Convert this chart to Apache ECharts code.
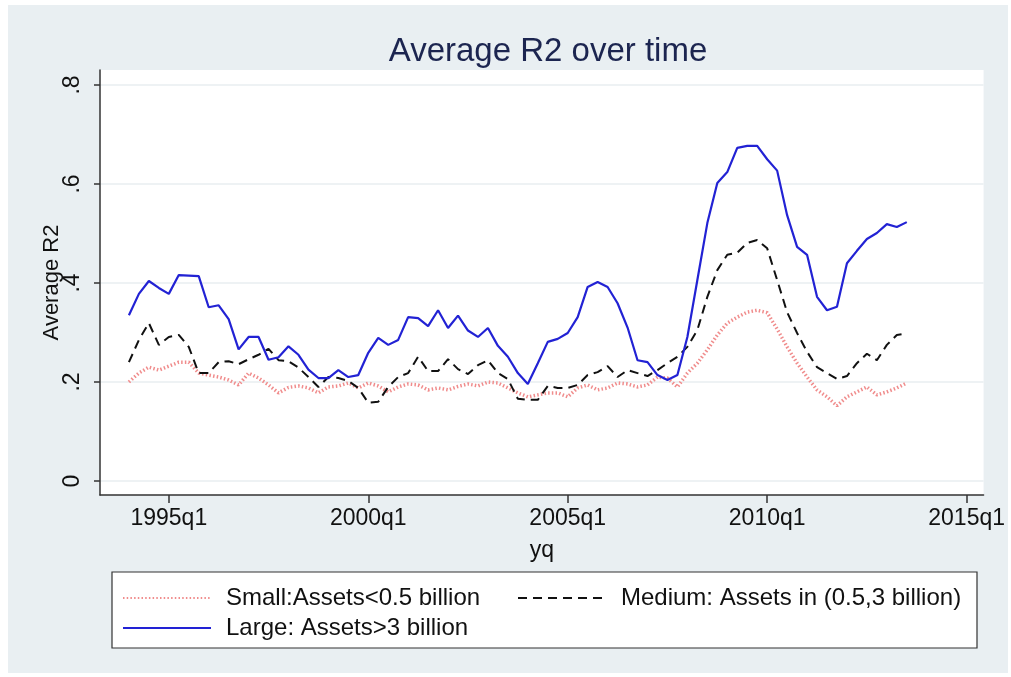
<!DOCTYPE html>
<html>
<head>
<meta charset="utf-8">
<script src="https://cdn.jsdelivr.net/npm/echarts@6/dist/echarts.min.js"></script>
<style>
  html, body { margin: 0; padding: 0; background: #ffffff; }
  #chart { position: absolute; left: 8px; top: 5px; width: 1000px; height: 668px; background: #e9eff2; }
</style>
</head>
<body>
<div id="chart"></div>
<script>
// quarters shown on the x axis (Stata yq)
var quarters = [
  '1994q1', '1994q2', '1994q3', '1994q4', '1995q1', '1995q2', '1995q3', '1995q4',
  '1996q1', '1996q2', '1996q3', '1996q4', '1997q1', '1997q2', '1997q3', '1997q4',
  '1998q1', '1998q2', '1998q3', '1998q4', '1999q1', '1999q2', '1999q3', '1999q4',
  '2000q1', '2000q2', '2000q3', '2000q4', '2001q1', '2001q2', '2001q3', '2001q4',
  '2002q1', '2002q2', '2002q3', '2002q4', '2003q1', '2003q2', '2003q3', '2003q4',
  '2004q1', '2004q2', '2004q3', '2004q4', '2005q1', '2005q2', '2005q3', '2005q4',
  '2006q1', '2006q2', '2006q3', '2006q4', '2007q1', '2007q2', '2007q3', '2007q4',
  '2008q1', '2008q2', '2008q3', '2008q4', '2009q1', '2009q2', '2009q3', '2009q4',
  '2010q1', '2010q2', '2010q3', '2010q4', '2011q1', '2011q2', '2011q3', '2011q4',
  '2012q1', '2012q2', '2012q3', '2012q4', '2013q1', '2013q2', '2013q3'
];

var small = [
  0.200, 0.218, 0.230, 0.224, 0.232, 0.240, 0.240, 0.218, 0.214, 0.210,
  0.204, 0.194, 0.218, 0.208, 0.194, 0.178, 0.189, 0.192, 0.188, 0.178,
  0.190, 0.192, 0.198, 0.188, 0.198, 0.192, 0.180, 0.190, 0.196, 0.194,
  0.184, 0.188, 0.184, 0.191, 0.196, 0.192, 0.200, 0.198, 0.188, 0.178,
  0.170, 0.174, 0.178, 0.178, 0.170, 0.188, 0.194, 0.184, 0.188, 0.198,
  0.196, 0.190, 0.194, 0.210, 0.208, 0.190, 0.218, 0.238, 0.265, 0.295,
  0.319, 0.331, 0.341, 0.345, 0.340, 0.307, 0.271, 0.238, 0.210, 0.184,
  0.170, 0.152, 0.170, 0.180, 0.190, 0.174, 0.180, 0.188, 0.198
];

var medium = [
  0.240, 0.285, 0.319, 0.275, 0.291, 0.295, 0.271, 0.218, 0.218, 0.240,
  0.242, 0.236, 0.246, 0.255, 0.267, 0.244, 0.242, 0.229, 0.210, 0.190,
  0.210, 0.208, 0.202, 0.188, 0.158, 0.160, 0.190, 0.210, 0.218, 0.251,
  0.222, 0.222, 0.246, 0.226, 0.216, 0.234, 0.244, 0.218, 0.206, 0.166,
  0.164, 0.164, 0.192, 0.188, 0.188, 0.194, 0.214, 0.220, 0.232, 0.210,
  0.224, 0.218, 0.212, 0.224, 0.238, 0.251, 0.271, 0.305, 0.372, 0.426,
  0.457, 0.461, 0.481, 0.487, 0.470, 0.406, 0.341, 0.299, 0.261, 0.230,
  0.218, 0.206, 0.212, 0.238, 0.257, 0.244, 0.275, 0.295, 0.298
];

var large = [
  0.335, 0.378, 0.404, 0.390, 0.378, 0.416, 0.415, 0.414, 0.351, 0.355,
  0.327, 0.266, 0.291, 0.291, 0.245, 0.250, 0.272, 0.255, 0.225, 0.208,
  0.208, 0.224, 0.210, 0.214, 0.259, 0.289, 0.275, 0.285, 0.331, 0.329,
  0.313, 0.345, 0.309, 0.334, 0.304, 0.291, 0.309, 0.273, 0.251, 0.218,
  0.196, 0.238, 0.281, 0.287, 0.299, 0.331, 0.392, 0.402, 0.392, 0.359,
  0.310, 0.244, 0.240, 0.214, 0.204, 0.214, 0.291, 0.406, 0.521, 0.602,
  0.624, 0.673, 0.677, 0.677, 0.650, 0.627, 0.537, 0.473, 0.457, 0.372,
  0.345, 0.352, 0.440, 0.465, 0.489, 0.501, 0.519, 0.513, 0.523
];

var xTickLabels = ['1995q1', '2000q1', '2005q1', '2010q1', '2015q1'];
var yTickValues = [0, 0.2, 0.4, 0.6, 0.8];
var yTickLabels = ['0', '.2', '.4', '.6', '.8'];

var names = ['Small:Assets<0.5 billion', 'Medium: Assets in (0.5,3 billion)', 'Large: Assets>3 billion'];

// Stata quarterly index: 1960q1 = 0
function yq(label) {
  var y = parseInt(label.slice(0, 4), 10);
  var q = parseInt(label.slice(5), 10);
  return (y - 1960) * 4 + (q - 1);
}
function yqLabel(v) {
  var y = 1960 + Math.floor(v / 4);
  return y + 'q' + (v - (y - 1960) * 4 + 1);
}
function pairs(values) {
  return quarters.map(function (q, i) { return [yq(q), values[i]]; });
}

var font = '"Liberation Sans", Arial, sans-serif';
var myChart = echarts.init(document.getElementById('chart'));

var legendCommon = {
  orient: 'horizontal',
  itemWidth: 88,
  itemHeight: 14,
  padding: 0,
  itemStyle: { opacity: 0 },
  textStyle: { fontFamily: font, fontSize: 24, color: '#111', padding: [0, 0, 0, 10] }
};

option = {
  animation: false,
  title: {
    text: 'Average R2 over time',
    left: 535,
    top: 25,
    textAlign: 'center',
    textStyle: { fontFamily: font, fontSize: 33, fontWeight: 'normal', color: '#1c2550' }
  },
  grid: {
    left: 92, top: 65, width: 887, height: 425,
    show: true, backgroundColor: '#ffffff', borderWidth: 0
  },
  xAxis: {
    type: 'value',
    min: 133.1,
    max: 221.7,
    name: 'yq',
    nameLocation: 'middle',
    nameGap: 44,
    nameTextStyle: { fontFamily: font, fontSize: 23, color: '#111' },
    axisLine: { show: true, onZero: false, lineStyle: { color: '#333', width: 1.5 } },
    axisTick: { show: true, length: 8, customValues: xTickLabels.map(yq), lineStyle: { color: '#333', width: 1.5 } },
    axisLabel: {
      customValues: xTickLabels.map(yq),
      formatter: function (v) { return yqLabel(v); },
      margin: 12,
      fontFamily: font, fontSize: 23, color: '#111'
    },
    splitLine: { show: false }
  },
  yAxis: {
    type: 'value',
    min: -0.0283,
    max: 0.8303,
    name: 'Average R2',
    nameLocation: 'middle',
    nameRotate: 90,
    nameGap: 37,
    nameMoveOverlap: false,
    nameTextStyle: { fontFamily: font, fontSize: 22, color: '#111' },
    axisLine: { show: true, onZero: false, lineStyle: { color: '#333', width: 1.5 } },
    axisTick: { show: true, length: 6, customValues: yTickValues, lineStyle: { color: '#333', width: 1.5 } },
    axisLabel: {
      customValues: yTickValues,
      rotate: 90,
      margin: 16,
      formatter: function (v) { return yTickLabels[yTickValues.indexOf(Math.round(v * 10) / 10)] || ''; },
      fontFamily: font, fontSize: 23, color: '#111'
    },
    splitLine: { show: true, lineStyle: { color: '#e8eef0', width: 1.5 } }
  },
  graphic: [{
    type: 'rect',
    z: -1,
    shape: { x: 104, y: 567, width: 865, height: 76 },
    style: { fill: '#ffffff', stroke: '#333', lineWidth: 1.2 }
  }],
  legend: [
    Object.assign({}, legendCommon, { data: [names[0]], left: 114, top: 581 }),
    Object.assign({}, legendCommon, { data: [names[1]], left: 509, top: 581 }),
    Object.assign({}, legendCommon, { data: [names[2]], left: 114, top: 611 })
  ],
  series: [
    {
      name: names[0], type: 'line', data: pairs(small), symbol: 'none',
      lineStyle: { color: '#f08c8c', width: 3.5, type: [1.5, 2.2] },
      itemStyle: { color: '#f08c8c' }, z: 2
    },
    {
      name: names[1], type: 'line', data: pairs(medium), symbol: 'none',
      lineStyle: { color: '#111111', width: 2, type: [9, 6] },
      itemStyle: { color: '#111111' }, z: 3
    },
    {
      name: names[2], type: 'line', data: pairs(large), symbol: 'none',
      lineStyle: { color: '#2222d4', width: 2.2, type: 'solid' },
      itemStyle: { color: '#2222d4' }, z: 4
    }
  ]
};

myChart.setOption(option);
</script>
</body>
</html>
